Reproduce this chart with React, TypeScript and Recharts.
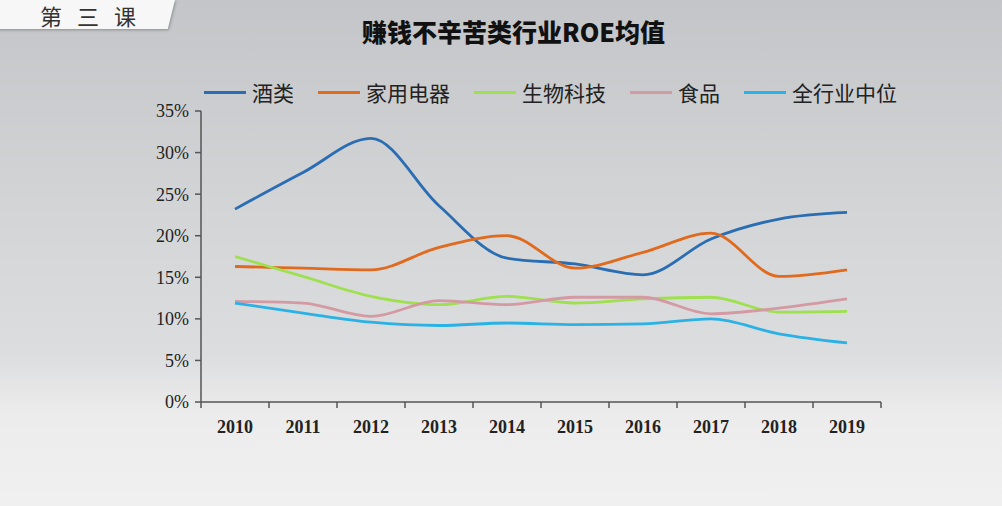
import { LineChart, Line, XAxis, YAxis } from 'recharts';

const years = ['2010', '2011', '2012', '2013', '2014', '2015', '2016', '2017', '2018', '2019'];
const liquor = [23.2, 27.6, 31.7, 23.6, 17.3, 16.6, 15.3, 19.6, 22.0, 22.8];
const appliances = [16.3, 16.1, 15.9, 18.6, 20.0, 16.1, 18.0, 20.3, 15.1, 15.9];
const biotech = [17.5, 15.1, 12.7, 11.7, 12.7, 11.9, 12.4, 12.6, 10.8, 10.9];
const food = [12.1, 11.9, 10.3, 12.2, 11.7, 12.6, 12.6, 10.6, 11.3, 12.4];
const allMedian = [11.9, 10.7, 9.6, 9.2, 9.5, 9.3, 9.4, 10.0, 8.2, 7.1];
const yTicks = [0, 5, 10, 15, 20, 25, 30, 35];
const tabChars = ['第', '三', '课'];

const series = [
  { key: 'liquor', name: '酒类', color: '#2a6db3', values: liquor },
  { key: 'appliances', name: '家用电器', color: '#e06a1e', values: appliances },
  { key: 'biotech', name: '生物科技', color: '#9ee04e', values: biotech },
  { key: 'food', name: '食品', color: '#d49aa4', values: food },
  { key: 'allMedian', name: '全行业中位', color: '#2ab2e6', values: allMedian },
];

const data = years.map((year, i) => {
  const row: { [k: string]: string | number } = { year };
  series.forEach(s => { row[s.key] = s.values[i]; });
  return row;
});

const BAND = 68;

// ticks sit on the band edges, labels in the middle
const XTick = (props: any) => {
  const { x, y, payload, index } = props;
  return (
    <g>
      <line x1={x - BAND / 2} y1={y} x2={x - BAND / 2} y2={y + 6} stroke="#555" strokeWidth={1.5} />
      {index === years.length - 1 && (
        <line x1={x + BAND / 2} y1={y} x2={x + BAND / 2} y2={y + 6} stroke="#555" strokeWidth={1.5} />
      )}
      <text x={x} y={y + 31} textAnchor="middle" fontSize={18} fontWeight="bold" fill="#222"
        fontFamily="'Liberation Serif', serif">{payload.value}</text>
    </g>
  );
};

const ChartLegend = () => (
  <div style={{
    position: 'absolute', left: 204, top: 77, display: 'flex', alignItems: 'center',
    fontFamily: "'Noto Sans CJK SC', sans-serif", fontSize: 21, color: '#222', whiteSpace: 'nowrap',
  }}>
    {series.map(s => (
      <div key={s.key} style={{ display: 'flex', alignItems: 'center', marginRight: 24 }}>
        <div style={{ width: 42, height: 3, background: s.color, marginRight: 6 }} />
        <span>{s.name}</span>
      </div>
    ))}
  </div>
);

export default function App() {
  return (
    <div style={{
      position: 'absolute', left: 0, top: 0, width: 1002, height: 506, overflow: 'hidden',
      background: 'linear-gradient(180deg, #c3c5c8 0%, #d3d4d6 40%, #dcdddf 70%, #ececec 82%, #f0f0f0 100%)',
    }}>
      <div style={{
        position: 'absolute', left: -10, top: 0, width: 185, height: 29, background: '#f7f7f7',
        transform: 'skewX(-14deg)', transformOrigin: 'top left', boxShadow: '1px 1px 3px rgba(0,0,0,0.3)',
      }} />
      {tabChars.map((c, i) => (
        <div key={c} style={{
          position: 'absolute', left: 40 + i * 37, top: 3, lineHeight: '24px', fontSize: 22,
          fontFamily: "'Noto Sans CJK SC', sans-serif", color: '#333',
        }}>{c}</div>
      ))}
      <div style={{
        position: 'absolute', left: 362, width: 320, top: 14, whiteSpace: 'nowrap',
        fontSize: 25, lineHeight: '34px', fontWeight: 900, fontFamily: "'Noto Sans CJK SC', sans-serif", color: '#111',
      }}>赚钱不辛苦类行业ROE均值</div>
      <ChartLegend />
      <LineChart width={1002} height={506} data={data}
        margin={{ top: 111, right: 121, left: 0, bottom: 74 }}
        style={{ position: 'absolute', left: 0, top: 0 }}>
        <XAxis dataKey="year" height={30} tickLine={false} tickSize={0} tickMargin={0}
          padding={{ left: BAND / 2, right: BAND / 2 }}
          stroke="#555" strokeWidth={1.5} tick={<XTick />} interval={0} />
        <YAxis width={201} domain={[0, 35]} ticks={yTicks} tickFormatter={(v: number) => `${v}%`}
          stroke="#555" strokeWidth={1.5} tickSize={6} tickMargin={6}
          tick={{ fontSize: 18, fill: '#222', fontFamily: "'Liberation Serif', serif" }} />
        {series.map(s => (
          <Line key={s.key} type="monotone" dataKey={s.key} name={s.name} stroke={s.color}
            strokeWidth={2.8} dot={false} isAnimationActive={false} />
        ))}
      </LineChart>
    </div>
  );
}
